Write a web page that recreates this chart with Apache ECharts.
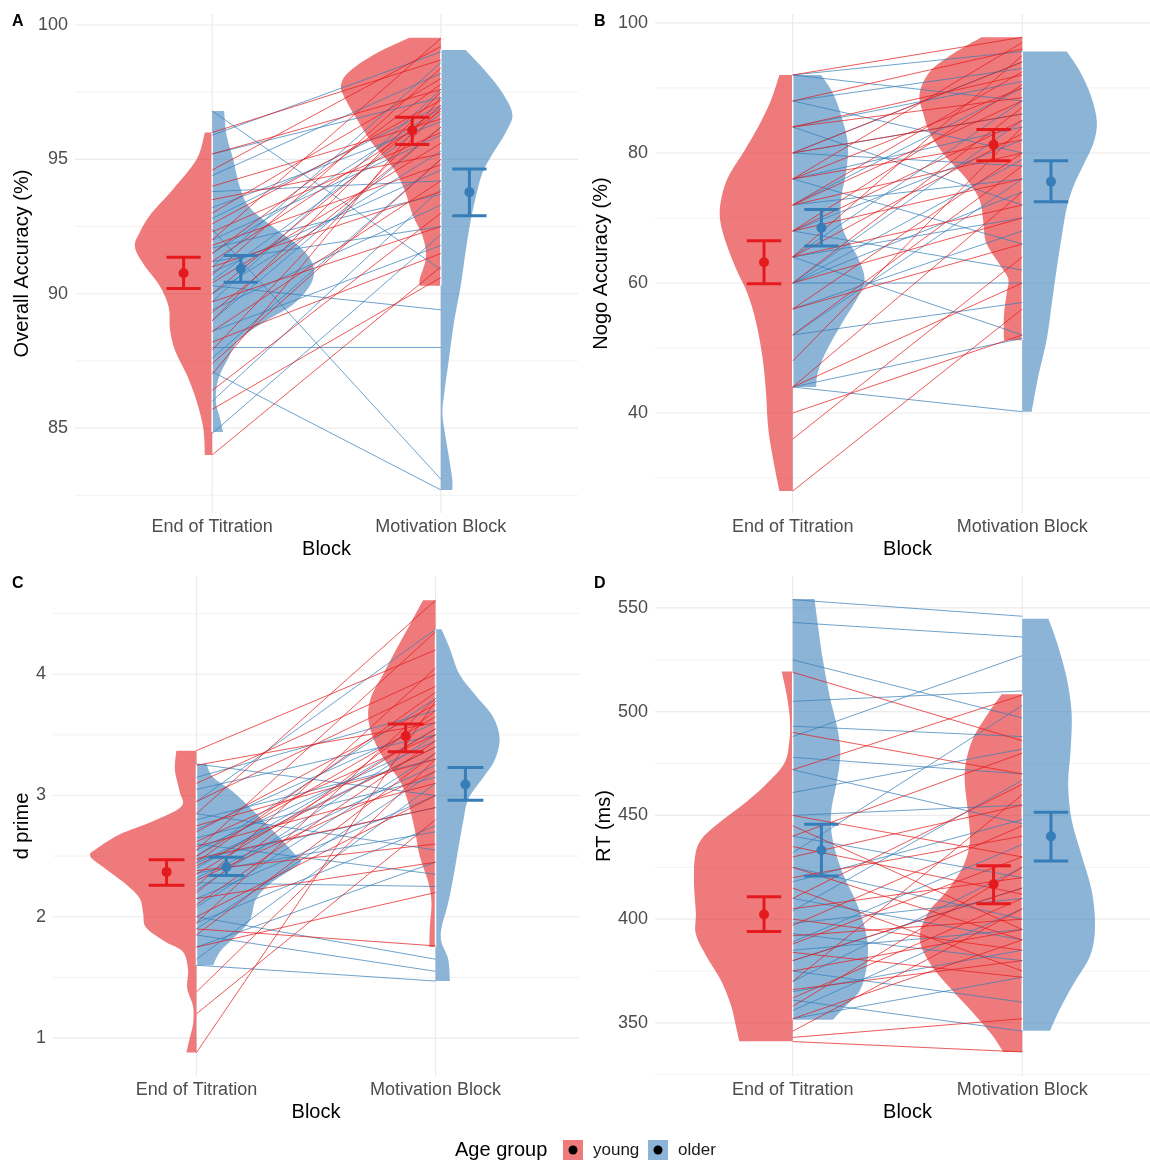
<!DOCTYPE html>
<html>
<head>
<meta charset="utf-8">
<script src="https://cdn.jsdelivr.net/npm/echarts@6/dist/echarts.min.js"></script>
<style>
  html, body { margin: 0; padding: 0; background: #ffffff; }
  #chart { width: 1150px; height: 1163px; }
</style>
</head>
<body>
<div id="chart"></div>
<script>
// ---------------------------------------------------------------
// Block names and age groups
// ---------------------------------------------------------------
const blocks = ['End of Titration', 'Motivation Block'];
const groups = ['young', 'older'];

// ---------------------------------------------------------------
// A. Overall accuracy (%): per participant [End of Titration, Motivation Block]
// ---------------------------------------------------------------
const accYoung = [
  [96.0, 98.7], [95.2, 97.6], [94.6, 99.2], [94.0, 96.5], [93.5, 95.2], [93.0, 98.0],
  [92.6, 97.2], [92.3, 96.0], [92.0, 99.5], [91.8, 94.8], [91.5, 97.8], [91.2, 96.8],
  [91.0, 93.8], [90.7, 98.4], [90.4, 95.6], [90.0, 97.0], [89.7, 92.5], [89.3, 96.2],
  [89.0, 97.5], [88.6, 94.2], [88.2, 91.5], [87.9, 96.9], [87.4, 95.0], [87.0, 97.3],
  [86.4, 93.0], [85.7, 90.6], [84.0, 91.0]
];
const accOlder = [
  [96.8, 90.9], [95.9, 99.0], [95.2, 97.3], [94.4, 98.2], [93.8, 94.2], [93.2, 96.4],
  [92.8, 97.0], [92.4, 83.1], [92.0, 95.9], [91.7, 93.7], [91.5, 96.9], [91.2, 92.5],
  [91.0, 98.6], [90.8, 94.6], [90.5, 96.7], [90.3, 89.4], [90.0, 95.3], [89.7, 97.6],
  [89.4, 93.3], [89.0, 96.2], [88.6, 91.8], [88.0, 88.0], [87.6, 95.0], [87.1, 82.7],
  [86.0, 93.9], [84.8, 92.2]
];
// density outlines: [value, half-width in block units], top to bottom
const accDensYoungTit = [[96.0,0.032],[95.0,0.068],[93.9,0.17],[93.0,0.265],[92.3,0.316],[91.75,0.338],[91.1,0.30],[90.3,0.23],[89.5,0.19],[88.7,0.185],[87.9,0.163],[87.0,0.112],[86.0,0.068],[85.0,0.039],[84.0,0.032]];
const accDensOlderTit = [[96.8,0.052],[95.9,0.063],[95.0,0.092],[94.0,0.12],[93.2,0.165],[92.4,0.28],[91.75,0.383],[91.1,0.44],[90.4,0.434],[89.6,0.354],[89.0,0.237],[88.3,0.12],[87.6,0.07],[86.8,0.026],[86.0,0.016],[85.4,0.033],[84.85,0.048]];
const accDensYoungMot = [[99.53,0.138],[98.94,0.284],[98.27,0.40],[97.74,0.437],[97.2,0.415],[96.54,0.37],[95.6,0.30],[94.7,0.21],[93.9,0.16],[92.95,0.124],[92.15,0.08],[91.36,0.065],[90.56,0.092],[90.3,0.092]];
const accDensOlderMot = [[99.07,0.109],[98.27,0.197],[97.47,0.27],[96.68,0.313],[96.0,0.284],[95.2,0.226],[94.5,0.182],[93.6,0.153],[92.7,0.13],[91.6,0.109],[90.3,0.087],[88.96,0.058],[87.6,0.036],[86.3,0.015],[85.6,0.007],[84.97,0.015],[83.9,0.036],[83.1,0.05],[82.7,0.05]];
// [mean, lower, upper]: titration young, titration older, motivation young, motivation older
const accSummary = [[90.76, 90.19, 91.36], [90.93, 90.43, 91.42], [96.08, 95.55, 96.57], [93.78, 92.90, 94.64]];
const accMajor = [85, 90, 95, 100];
const accMinor = [82.5, 87.5, 92.5, 97.5];

// ---------------------------------------------------------------
// B. Nogo accuracy (%)
// ---------------------------------------------------------------
const nogoYoung = [
  [92, 97.8], [88, 96.0], [84, 92.0], [84, 88.5], [80, 94.0], [80, 86.0], [76, 90.0],
  [76, 82.0], [76, 97.0], [72, 88.0], [72, 80.0], [72, 92.5], [68, 85.0], [68, 76.0],
  [68, 90.5], [64, 83.0], [64, 95.0], [64, 72.0], [60, 87.0], [60, 70.0], [56, 80.0],
  [56, 66.0], [52, 78.0], [48, 84.0], [44, 60.0], [44, 74.0], [36, 64.0], [28, 56.0],
  [40, 52.0]
];
const nogoOlder = [
  [92, 95.6], [92, 88.0], [88, 93.0], [88, 80.0], [84, 91.0], [84, 72.0], [80, 86.0],
  [80, 78.0], [80, 94.0], [76, 84.0], [76, 66.0], [72, 90.0], [72, 76.0], [68, 82.0],
  [68, 62.0], [64, 88.0], [64, 70.0], [64, 52.0], [60, 85.0], [60, 74.0], [60, 60.0],
  [60, 79.0], [56, 68.0], [52, 76.0], [52, 57.0], [44, 51.5], [44, 40.2]
];
const nogoDensYoungTit = [[92,0.058],[88.1,0.095],[84.3,0.146],[80.4,0.21],[76.6,0.277],[73.2,0.31],[69.9,0.317],[66.1,0.29],[62.2,0.247],[58.4,0.197],[54.0,0.16],[48.4,0.131],[42.9,0.116],[37.4,0.106],[31.9,0.08],[28.0,0.058]];
const nogoDensOlderTit = [[92,0.124],[89.2,0.175],[85.9,0.21],[81.5,0.24],[77.1,0.233],[72.7,0.21],[68.3,0.218],[63.9,0.284],[60.6,0.313],[57.8,0.284],[54.0,0.218],[49.5,0.146],[46.2,0.109],[44.0,0.102]];
const nogoDensYoungMot = [[97.8,0.178],[95.3,0.30],[92.6,0.40],[89.2,0.447],[85.9,0.43],[82.6,0.396],[79.3,0.33],[76.0,0.243],[72.7,0.185],[69.4,0.17],[66.1,0.156],[62.8,0.098],[60.6,0.061],[58.4,0.068],[55.0,0.08],[51.2,0.08]];
const nogoDensOlderMot = [[95.6,0.194],[92.6,0.25],[88.7,0.30],[84.8,0.325],[81.5,0.31],[78.2,0.267],[74.9,0.223],[71.6,0.194],[67.2,0.172],[62.2,0.15],[56.7,0.128],[51.2,0.106],[45.7,0.07],[40.2,0.041]];
const nogoSummary = [[63.2, 59.9, 66.5], [68.5, 65.7, 71.3], [81.25, 78.8, 83.6], [75.6, 72.5, 78.8]];
const nogoMajor = [40, 60, 80, 100];
const nogoMinor = [30, 50, 70, 90];

// ---------------------------------------------------------------
// C. d prime
// ---------------------------------------------------------------
const dpYoung = [
  [3.37, 4.20], [3.25, 3.60], [3.10, 4.00], [2.95, 3.90], [2.85, 4.61], [2.75, 3.30],
  [2.70, 3.75], [2.62, 3.50], [2.58, 3.10], [2.55, 4.35], [2.50, 3.65], [2.48, 2.90],
  [2.45, 3.85], [2.42, 3.40], [2.38, 2.60], [2.35, 3.55], [2.30, 3.20], [2.25, 4.05],
  [2.20, 3.70], [2.15, 2.45], [2.10, 3.45], [2.00, 3.00], [1.95, 3.80], [1.90, 1.76],
  [1.85, 3.35], [1.75, 2.20], [1.38, 3.30], [1.20, 2.80], [0.88, 3.78]
];
const dpOlder = [
  [3.26, 3.00], [3.15, 3.70], [3.05, 3.50], [2.95, 4.37], [2.85, 2.55], [2.80, 3.30],
  [2.72, 3.60], [2.65, 3.15], [2.60, 2.35], [2.55, 3.45], [2.50, 3.80], [2.47, 2.90],
  [2.44, 3.40], [2.40, 3.55], [2.36, 2.70], [2.32, 3.25], [2.28, 2.25], [2.22, 3.50],
  [2.15, 3.00], [2.08, 3.35], [2.00, 1.65], [1.95, 2.75], [1.90, 3.20], [1.85, 1.55],
  [1.75, 2.45], [1.65, 3.10], [1.60, 1.47]
];
const dpDensYoungTit = [[3.37,0.084],[3.21,0.09],[3.03,0.07],[2.91,0.063],[2.79,0.18],[2.68,0.32],[2.56,0.418],[2.5,0.444],[2.41,0.39],[2.26,0.29],[2.15,0.237],[2.03,0.223],[1.91,0.21],[1.79,0.126],[1.71,0.056],[1.56,0.035],[1.41,0.039],[1.26,0.014],[1.12,0.014],[1.0,0.028],[0.88,0.042]];
const dpDensOlderTit = [[3.26,0.042],[3.15,0.07],[3.03,0.153],[2.85,0.25],[2.68,0.335],[2.5,0.418],[2.44,0.432],[2.29,0.32],[2.15,0.25],[1.97,0.223],[1.82,0.153],[1.71,0.098],[1.6,0.07]];
const dpDensYoungMot = [[4.61,0.052],[4.41,0.107],[4.21,0.163],[4.0,0.219],[3.82,0.268],[3.65,0.282],[3.47,0.26],[3.29,0.212],[3.12,0.149],[2.94,0.114],[2.71,0.086],[2.5,0.066],[2.29,0.031],[2.12,0.017],[1.91,0.024],[1.75,0.026]];
const dpDensOlderMot = [[4.37,0.025],[4.21,0.06],[4.0,0.1],[3.82,0.17],[3.65,0.24],[3.47,0.268],[3.29,0.247],[3.15,0.2],[2.97,0.137],[2.79,0.116],[2.56,0.095],[2.32,0.074],[2.09,0.05],[1.91,0.025],[1.79,0.025],[1.65,0.053],[1.47,0.06]];
const dpSummary = [[2.37, 2.26, 2.47], [2.41, 2.34, 2.49], [3.49, 3.36, 3.59], [3.09, 2.96, 3.23]];
const dpMajor = [1, 2, 3, 4];
const dpMinor = [1.5, 2.5, 3.5, 4.5];

// ---------------------------------------------------------------
// D. Reaction time (ms)
// ---------------------------------------------------------------
const rtYoung = [
  [519, 486], [490, 470], [472, 508], [450, 430], [445, 395], [440, 480], [435, 412],
  [430, 455], [425, 390], [420, 440], [415, 375], [410, 465], [405, 420], [400, 385],
  [397, 445], [392, 400], [388, 430], [384, 372], [380, 415], [375, 395], [370, 460],
  [366, 380], [362, 410], [358, 425], [352, 390], [346, 405], [343, 352], [341, 336]
];
const rtOlder = [
  [554, 546], [543, 536], [525, 497], [505, 510], [493, 488], [488, 527], [478, 470],
  [472, 446], [461, 482], [450, 455], [440, 420], [432, 503], [425, 400], [418, 448],
  [410, 390], [404, 467], [398, 410], [393, 380], [389, 436], [385, 395], [380, 415],
  [375, 360], [370, 425], [365, 385], [361, 346], [356, 405], [352, 372]
];
const rtDensYoungTit = [[519.4,0.048],[507.9,0.026],[495.9,0.012],[485.6,0.015],[475.3,0.036],[465,0.116],[456.4,0.204],[447.8,0.306],[439.2,0.393],[430.6,0.425],[416.8,0.43],[403,0.422],[392.8,0.422],[382.5,0.378],[370.5,0.313],[358.4,0.269],[348.1,0.247],[341.2,0.233]];
const rtDensOlderTit = [[554.3,0.095],[542.3,0.109],[525.1,0.131],[507.9,0.16],[490.7,0.197],[478.7,0.207],[465,0.19],[451.2,0.167],[437.5,0.175],[422,0.218],[408.2,0.277],[396.2,0.313],[385.9,0.328],[375.6,0.32],[365.3,0.291],[356.7,0.218],[351.5,0.175]];
const rtDensYoungMot = [[508.4,0.09],[499.3,0.148],[487.3,0.214],[475.3,0.246],[465,0.25],[451.2,0.236],[437.5,0.228],[425.4,0.258],[413.4,0.33],[403.1,0.41],[391,0.447],[379,0.404],[367,0.316],[354.8,0.214],[344.5,0.134],[336,0.083]];
const rtDensOlderMot = [[544.8,0.114],[533.7,0.15],[516.5,0.193],[499.3,0.215],[482.1,0.211],[465,0.2],[447.8,0.215],[430.6,0.259],[413.4,0.303],[396.2,0.317],[382.5,0.296],[368.7,0.223],[356.7,0.164],[346.2,0.121]];
const rtSummary = [[402.2, 394.0, 410.8], [433.2, 420.8, 445.7], [416.8, 407.4, 425.8], [439.9, 428.0, 451.5]];
const rtMajor = [350, 400, 450, 500, 550];
const rtMinor = [325, 375, 425, 475, 525];

// ---------------------------------------------------------------
// Styling
// ---------------------------------------------------------------
const FONT = "'Liberation Sans', Arial, Helvetica, sans-serif";
const RED = '#E41A1C';
const BLUE = '#377EB8';
const FILL = { young: 'rgba(228,26,28,0.58)', older: 'rgba(55,126,184,0.58)' };
const LINE = { young: 'rgba(228,26,28,0.72)', older: 'rgba(55,126,184,0.72)' };
const SOLID = { young: RED, older: BLUE };
const SUMMARY_OFFSET = 0.125;  // dodge of the mean +/- SE bars from the block centre
const CAP_HALF = 0.075;

const panels = [
  { letter: 'A', yName: 'Overall Accuracy (%)', young: accYoung, older: accOlder,
    dens: [accDensYoungTit, accDensOlderTit, accDensYoungMot, accDensOlderMot],
    summary: accSummary, major: accMajor, minor: accMinor,
    yMin: 81.84, yMax: 100.41, xMax: 2.6,
    left: 75, top: 14, width: 503, height: 499, yGap: 43 },
  { letter: 'B', yName: 'Nogo Accuracy (%)', young: nogoYoung, older: nogoOlder,
    dens: [nogoDensYoungTit, nogoDensOlderTit, nogoDensYoungMot, nogoDensOlderMot],
    summary: nogoSummary, major: nogoMajor, minor: nogoMinor,
    yMin: 24.62, yMax: 101.38, xMax: 2.6,
    left: 655, top: 14, width: 505, height: 499, yGap: 44 },
  { letter: 'C', yName: 'd prime', young: dpYoung, older: dpOlder,
    dens: [dpDensYoungTit, dpDensOlderTit, dpDensYoungMot, dpDensOlderMot],
    summary: dpSummary, major: dpMajor, minor: dpMinor,
    yMin: 0.687, yMax: 4.81, xMax: 2.6,
    left: 53, top: 576, width: 526, height: 500, yGap: 21 },
  { letter: 'D', yName: 'RT (ms)', young: rtYoung, older: rtOlder,
    dens: [rtDensYoungTit, rtDensOlderTit, rtDensYoungMot, rtDensOlderMot],
    summary: rtSummary, major: rtMajor, minor: rtMinor,
    yMin: 324.4, yMax: 565.4, xMax: 2.6,
    left: 655, top: 576, width: 505, height: 500, yGap: 41 }
];

// violin order inside each panel: [block (1|2), side (-1 young | +1 older), group]
const violinSlots = [[1, -1, 'young'], [1, 1, 'older'], [2, -1, 'young'], [2, 1, 'older']];

// Smooth half-violin outline (Catmull-Rom through the outline points)
function violinPath(api, dens, cat, side) {
  const pts = dens.map(d => api.coord([cat + side * d[1], d[0]]));
  const top = api.coord([cat, dens[0][0]]);
  const bot = api.coord([cat, dens[dens.length - 1][0]]);
  let d = 'M' + top[0] + ',' + top[1] + 'L' + pts[0][0] + ',' + pts[0][1];
  for (let i = 0; i < pts.length - 1; i++) {
    const p0 = pts[Math.max(i - 1, 0)], p1 = pts[i], p2 = pts[i + 1], p3 = pts[Math.min(i + 2, pts.length - 1)];
    const c1x = p1[0] + (p2[0] - p0[0]) / 6, c1y = p1[1] + (p2[1] - p0[1]) / 6;
    const c2x = p2[0] - (p3[0] - p1[0]) / 6, c2y = p2[1] - (p3[1] - p1[1]) / 6;
    d += 'C' + c1x + ',' + c1y + ' ' + c2x + ',' + c2y + ' ' + p2[0] + ',' + p2[1];
  }
  d += 'L' + bot[0] + ',' + bot[1] + 'Z';
  return d;
}

const grids = [], xAxes = [], yAxes = [], series = [], graphics = [];

panels.forEach((p, i) => {
  grids.push({ left: p.left, top: p.top, width: p.width, height: p.height, containLabel: false, outerBoundsMode: 'none' });

  xAxes.push({
    type: 'value', gridIndex: i, min: 0.4, max: p.xMax,
    name: 'Block', nameLocation: 'middle', nameGap: 26,
    nameTextStyle: { fontSize: 20, color: '#000000', fontFamily: FONT },
    axisLine: { show: false }, axisTick: { show: false }, splitLine: { show: false },
    axisLabel: {
      customValues: [1, 2], margin: 5, fontSize: 18, color: '#4D4D4D', fontFamily: FONT,
      formatter: v => blocks[Math.round(v) - 1]
    }
  });

  yAxes.push({
    type: 'value', gridIndex: i, min: p.yMin, max: p.yMax,
    name: p.yName, nameLocation: 'middle', nameGap: p.yGap, nameRotate: 90,
    nameTextStyle: { fontSize: 20, color: '#000000', fontFamily: FONT },
    axisLine: { show: false }, axisTick: { show: false }, splitLine: { show: false },
    axisLabel: {
      customValues: p.major, margin: 7, fontSize: 18, color: '#4D4D4D', fontFamily: FONT,
      formatter: v => String(v)
    }
  });

  // background grid: [kind, value] with kind 0 = major y, 1 = minor y, 2 = block x
  const gridData = p.major.map(v => [0, v]).concat(p.minor.map(v => [1, v]), [[2, 1], [2, 2]]);
  series.push({
    type: 'custom', xAxisIndex: i, yAxisIndex: i, z: 0, silent: true,
    encode: { x: -1, y: -1 },
    data: gridData,
    renderItem: (params, api) => {
      const cs = params.coordSys;
      const kind = api.value(0), v = api.value(1);
      if (kind === 2) {
        const x = api.coord([v, p.yMin])[0];
        return { type: 'line', shape: { x1: x, y1: cs.y, x2: x, y2: cs.y + cs.height },
                 style: { stroke: '#EBEBEB', lineWidth: 1.2 } };
      }
      const y = api.coord([1, v])[1];
      return { type: 'line', shape: { x1: cs.x, y1: y, x2: cs.x + cs.width, y2: y },
               style: { stroke: kind === 0 ? '#EBEBEB' : '#F2F2F2', lineWidth: kind === 0 ? 1.2 : 1 } };
    }
  });

  // half violins
  series.push({
    type: 'custom', xAxisIndex: i, yAxisIndex: i, z: 1, silent: true,
    encode: { x: -1, y: -1 },
    data: violinSlots.map((s, k) => [k]),
    renderItem: (params, api) => {
      const k = api.value(0);
      const [cat, side, grp] = violinSlots[k];
      return { type: 'path', shape: { pathData: violinPath(api, p.dens[k], cat, side) },
               style: { fill: FILL[grp], stroke: null } };
    }
  });

  // thin white divider between the two halves of each block
  series.push({
    type: 'custom', xAxisIndex: i, yAxisIndex: i, z: 2, silent: true,
    encode: { x: -1, y: -1 },
    data: [[1], [2]],
    renderItem: (params, api) => {
      const cat = api.value(0);
      const a = p.dens[(cat - 1) * 2], b = p.dens[(cat - 1) * 2 + 1];
      const hi = Math.min(a[0][0], b[0][0]);
      const lo = Math.max(a[a.length - 1][0], b[b.length - 1][0]);
      const t = api.coord([cat, hi]), u = api.coord([cat, lo]);
      return { type: 'line', shape: { x1: t[0], y1: t[1], x2: u[0], y2: u[1] },
               style: { stroke: '#FFFFFF', lineWidth: 1.5 } };
    }
  });

  // participant trajectories between the two blocks
  ['older', 'young'].forEach((g, gi) => {
    series.push({
      type: 'custom', xAxisIndex: i, yAxisIndex: i, z: 3 + gi, silent: true,
      encode: { x: -1, y: -1 },
      data: p[g],
      renderItem: (params, api) => {
        const a = api.coord([1, api.value(0)]), b = api.coord([2, api.value(1)]);
        return { type: 'line', shape: { x1: a[0], y1: a[1], x2: b[0], y2: b[1] },
                 style: { stroke: LINE[g], lineWidth: 1 } };
      }
    });
  });

  // mean +/- SE per block and group
  series.push({
    type: 'custom', xAxisIndex: i, yAxisIndex: i, z: 6, silent: true,
    encode: { x: -1, y: -1 },
    data: p.summary.map((s, k) => [k, s[0], s[1], s[2]]),
    renderItem: (params, api) => {
      const k = api.value(0);
      const [cat, side, grp] = violinSlots[k];
      const x = cat + side * SUMMARY_OFFSET;
      const m = api.coord([x, api.value(1)]);
      const lo = api.coord([x, api.value(2)]);
      const hi = api.coord([x, api.value(3)]);
      const l = api.coord([x - CAP_HALF, api.value(2)])[0];
      const r = api.coord([x + CAP_HALF, api.value(2)])[0];
      const st = { stroke: SOLID[grp], lineWidth: 3 };
      return { type: 'group', children: [
        { type: 'line', shape: { x1: m[0], y1: lo[1], x2: m[0], y2: hi[1] }, style: st },
        { type: 'line', shape: { x1: l, y1: lo[1], x2: r, y2: lo[1] }, style: st },
        { type: 'line', shape: { x1: l, y1: hi[1], x2: r, y2: hi[1] }, style: st },
        { type: 'circle', shape: { cx: m[0], cy: m[1], r: 5 }, style: { fill: SOLID[grp] } }
      ] };
    }
  });

  // panel letter
  graphics.push({
    type: 'text', x: p.left < 300 ? 12 : 594, y: p.top + 8,
    style: { text: p.letter, fontSize: 16, fontWeight: 'bold', fill: '#000000',
             fontFamily: FONT, verticalAlign: 'middle', align: 'left' }
  });
});

// legend: Age group
graphics.push(
  { type: 'text', x: 455, y: 1150, style: { text: 'Age group', fontSize: 20, fill: '#000000', fontFamily: FONT, verticalAlign: 'middle', align: 'left' } },
  { type: 'rect', shape: { x: 563, y: 1140, width: 20, height: 20 }, style: { fill: FILL.young } },
  { type: 'circle', shape: { cx: 573, cy: 1150, r: 4.5 }, style: { fill: '#000000' } },
  { type: 'text', x: 593, y: 1150, style: { text: groups[0], fontSize: 17, fill: '#1A1A1A', fontFamily: FONT, verticalAlign: 'middle', align: 'left' } },
  { type: 'rect', shape: { x: 648, y: 1140, width: 20, height: 20 }, style: { fill: FILL.older } },
  { type: 'circle', shape: { cx: 658, cy: 1150, r: 4.5 }, style: { fill: '#000000' } },
  { type: 'text', x: 678, y: 1150, style: { text: groups[1], fontSize: 17, fill: '#1A1A1A', fontFamily: FONT, verticalAlign: 'middle', align: 'left' } }
);

const chart = echarts.init(document.getElementById('chart'), null, { renderer: 'canvas' });
chart.setOption({
  animation: false,
  backgroundColor: '#ffffff',
  textStyle: { fontFamily: FONT },
  grid: grids,
  xAxis: xAxes,
  yAxis: yAxes,
  series: series,
  graphic: graphics
});
</script>
</body>
</html>
